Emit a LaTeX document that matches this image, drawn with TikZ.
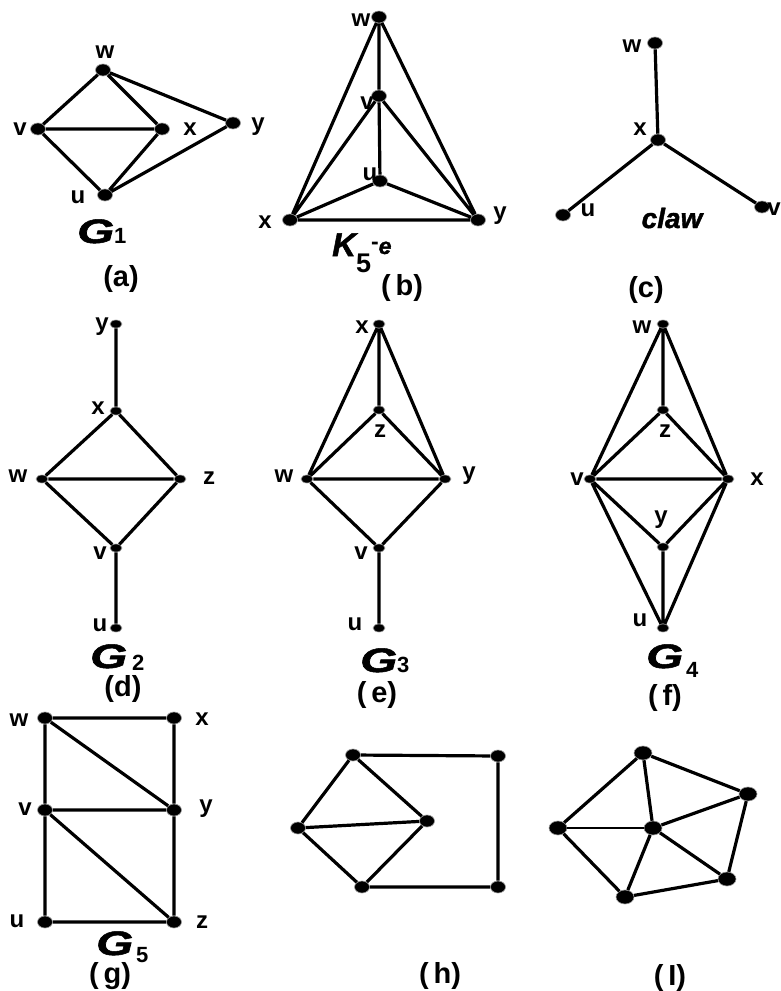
\documentclass[tikz,border=0pt]{standalone}
\usepackage{fontspec}
\usepackage{graphicx}
\setmainfont{Liberation Sans}
\newfontfamily\heavyfont{Liberation Sans Bold Italic}[FakeBold=1.5]
\usetikzlibrary{shapes.geometric}
\newcommand{\wideG}{\scalebox{1.4}[1]{G}}
\newcommand{\subn}[2]{\raisebox{-#1pt}{\normalfont\bfseries\fontsize{22}{22}\selectfont #2}}

\begin{document}
\begin{tikzpicture}[x=1pt,y=-1pt,
  dot/.style={ellipse,fill=black,draw=black!40,line width=0.6pt,minimum width=15pt,minimum height=12pt,inner sep=0pt},
  smalldot/.style={dot,minimum width=12pt,minimum height=8pt},
  bigdot/.style={dot,minimum width=18pt,minimum height=14pt},
  edge/.style={line width=3.2pt},
  thinedge/.style={line width=1.2pt},
  lbl/.style={font=\bfseries\fontsize{24}{24}\selectfont,inner sep=0pt},
  gname/.style={font=\heavyfont\fontsize{34}{34}\selectfont,inner sep=0pt,anchor=base west},
  capt/.style={font=\bfseries\fontsize{29}{29}\selectfont,inner sep=0pt}
]
\useasboundingbox (0,0) rectangle (780,991);

% (a) G1
\node[dot] (aw) at (103,70) {};
\node[dot] (av) at (38,129) {};
\node[dot] (ax) at (162,129) {};
\node[dot] (ay) at (233,123) {};
\node[dot] (au) at (105,195) {};
\draw[edge] (aw)--(av) (aw)--(ax) (aw)--(ay) (av)--(ax) (av)--(au) (ax)--(au) (au)--(ay);
\node[lbl] (aw-l) at (105,52) {w};
\node[lbl] (av-l) at (20,129) {v};
\node[lbl] (ax-l) at (190,129) {x};
\node[lbl] (ay-l) at (258,127) {y};
\node[lbl] (au-l) at (78,197) {u};
\node[gname] (ga) at (77,243) {\wideG\subn{0}{1}};
\node[capt] (ca) at (121,279) {(a)};

% (b) K5-e
\node[dot] (bw) at (379,17) {};
\node[dot] (bv) at (379,96) {};
\node[dot] (bu) at (380,181) {};
\node[dot] (bx) at (290,220) {};
\node[dot] (by) at (478,220) {};
\draw[edge] (bw)--(bv) (bv)--(bu) (bw)--(bx) (bw)--(by) (bv)--(bx) (bv)--(by) (bu)--(bx) (bu)--(by) (bx)--(by);
\node[lbl] (bw-l) at (361,20) {w};
\node[lbl] (bv-l) at (367,103) {v};
\node[lbl] (bu-l) at (370,174) {u};
\node[lbl] (bx-l) at (265,222) {x};
\node[lbl] (by-l) at (500,216) {y};
\node[gname,font=\heavyfont\fontsize{33}{33}\selectfont] (gb) at (332,256)
  {K\raisebox{-16pt}{\normalfont\bfseries\fontsize{27}{27}\selectfont 5}\raisebox{2pt}{\fontsize{23}{23}\selectfont\raisebox{5pt}{\normalfont\bfseries-}e}};
\node[capt] (cb) at (402,288) {(\,b)};

% (c) claw
\node[dot] (cw) at (655,43) {};
\node[dot] (cx) at (658,140) {};
\node[dot] (cu) at (563,215) {};
\node[dot] (cv) at (762,207) {};
\draw[edge] (cw)--(cx) (cx)--(cu) (cx)--(cv);
\node[lbl] (cw-l) at (632,46) {w};
\node[lbl] (cx-l) at (640,129) {x};
\node[lbl] (cu-l) at (588,210) {u};
\node[lbl] (cv-l) at (774,209) {v};
\node[lbl,font=\heavyfont\fontsize{28}{28}\selectfont] (gc) at (672,218) {claw};
\node[capt] (cc) at (646,290) {(c)};

% (d) G2
\node[smalldot] (dy) at (116,324) {};
\node[smalldot] (dx) at (116,411) {};
\node[smalldot] (dw) at (42,479) {};
\node[smalldot] (dz) at (180,479) {};
\node[smalldot] (dv) at (116,548) {};
\node[smalldot] (du) at (116,628) {};
\draw[edge] (dy)--(dx) (dx)--(dw) (dx)--(dz) (dw)--(dz) (dw)--(dv) (dz)--(dv) (dv)--(du);
\node[lbl] (dy-l) at (102,327) {y};
\node[lbl] (dx-l) at (98,408) {x};
\node[lbl] (dw-l) at (18,476) {w};
\node[lbl] (dz-l) at (209,478) {z};
\node[lbl] (dv-l) at (100,553) {v};
\node[lbl] (du-l) at (100,625) {u};
\node[gname] (gd) at (90,668) {\wideG\kern5pt\subn{2}{2}};
\node[capt] (cd) at (123,689) {(d)};

% (e) G3
\node[smalldot] (ex) at (379,324) {};
\node[smalldot] (ez) at (379,410) {};
\node[smalldot] (ew) at (307,479) {};
\node[smalldot] (ey) at (445,479) {};
\node[smalldot] (ev) at (379,548) {};
\node[smalldot] (eu) at (379,628) {};
\draw[edge] (ex)--(ez) (ex)--(ew) (ex)--(ey) (ez)--(ew) (ez)--(ey) (ew)--(ey) (ew)--(ev) (ey)--(ev) (ev)--(eu);
\node[lbl] (ex-l) at (362,327) {x};
\node[lbl] (ez-l) at (380,431) {z};
\node[lbl] (ew-l) at (284,476) {w};
\node[lbl] (ey-l) at (469,476) {y};
\node[lbl] (ev-l) at (361,553) {v};
\node[lbl] (eu-l) at (355,624) {u};
\node[gname] (ge) at (360,672) {\wideG\subn{0}{3}};
\node[capt] (ce) at (377,695) {(\,e)};

% (f) G4
\node[smalldot] (fw) at (663,324) {};
\node[smalldot] (fz) at (663,410) {};
\node[smalldot] (fv) at (590,479) {};
\node[smalldot] (fx) at (728,479) {};
\node[smalldot] (fy) at (663,547) {};
\node[smalldot] (fu) at (663,628) {};
\draw[edge] (fw)--(fz) (fw)--(fv) (fw)--(fx) (fz)--(fv) (fz)--(fx) (fv)--(fx) (fv)--(fy) (fx)--(fy) (fy)--(fu) (fv)--(fu) (fx)--(fu);
\node[lbl] (fw-l) at (642,327) {w};
\node[lbl] (fz-l) at (665,431) {z};
\node[lbl] (fv-l) at (577,479) {v};
\node[lbl] (fx-l) at (757,479) {x};
\node[lbl] (fy-l) at (661,520) {y};
\node[lbl] (fu-l) at (640,620) {u};
\node[gname] (gf) at (646,668) {\wideG\kern3pt\subn{9}{4}};
\node[capt] (cf) at (665,698) {(\,f)};

% (g) G5
\node[dot] (gw) at (45,718) {};
\node[dot] (gx) at (174,718) {};
\node[dot] (gv) at (45,810) {};
\node[dot] (gy) at (174,810) {};
\node[dot] (gu) at (45,922) {};
\node[dot] (gz) at (174,922) {};
\draw[edge] (gw)--(gx) (gw)--(gv) (gw)--(gy) (gx)--(gy) (gv)--(gy) (gv)--(gu) (gv)--(gz) (gy)--(gz) (gu)--(gz);
\node[lbl] (gw-l) at (19,720) {w};
\node[lbl] (gx-l) at (202,719) {x};
\node[lbl] (gv-l) at (25,809) {v};
\node[lbl] (gy-l) at (206,809) {y};
\node[lbl] (gu-l) at (17,921) {u};
\node[lbl] (gz-l) at (202,922) {z};
\node[gname] (gg) at (96,955) {\wideG\kern3pt\subn{7}{5}};
\node[capt] (cg) at (110,976) {(\,g)};

% (h)
\node[dot] (ha) at (353,755) {};
\node[dot] (hb) at (498,756) {};
\node[dot] (hc) at (298,828) {};
\node[dot] (hd) at (427,821) {};
\node[dot] (he) at (362,887) {};
\node[dot] (hf) at (498,887) {};
\draw[edge] (ha)--(hb) (hb)--(hf) (hf)--(he) (ha)--(hc) (ha)--(hd) (hc)--(hd) (hc)--(he) (hd)--(he);
\node[capt] (ch) at (440,976) {(\,h)};

% (i)
\node[bigdot] (ip1) at (643,753) {};
\node[bigdot] (ip2) at (748,794) {};
\node[bigdot] (ip3) at (558,828) {};
\node[bigdot] (ic) at (653,828) {};
\node[bigdot] (ip4) at (727,879) {};
\node[bigdot] (ip5) at (625,897) {};
\draw[edge] (ip1)--(ip2) (ip1)--(ip3) (ip1)--(ic) (ip2)--(ic) (ip2)--(ip4) (ip3)--(ip5) (ic)--(ip5) (ic)--(ip4) (ip4)--(ip5);
\draw[thinedge] (ip3)--(ic);
\node[capt] (ci) at (670,978) {(\,I)};
\end{tikzpicture}
\end{document}
